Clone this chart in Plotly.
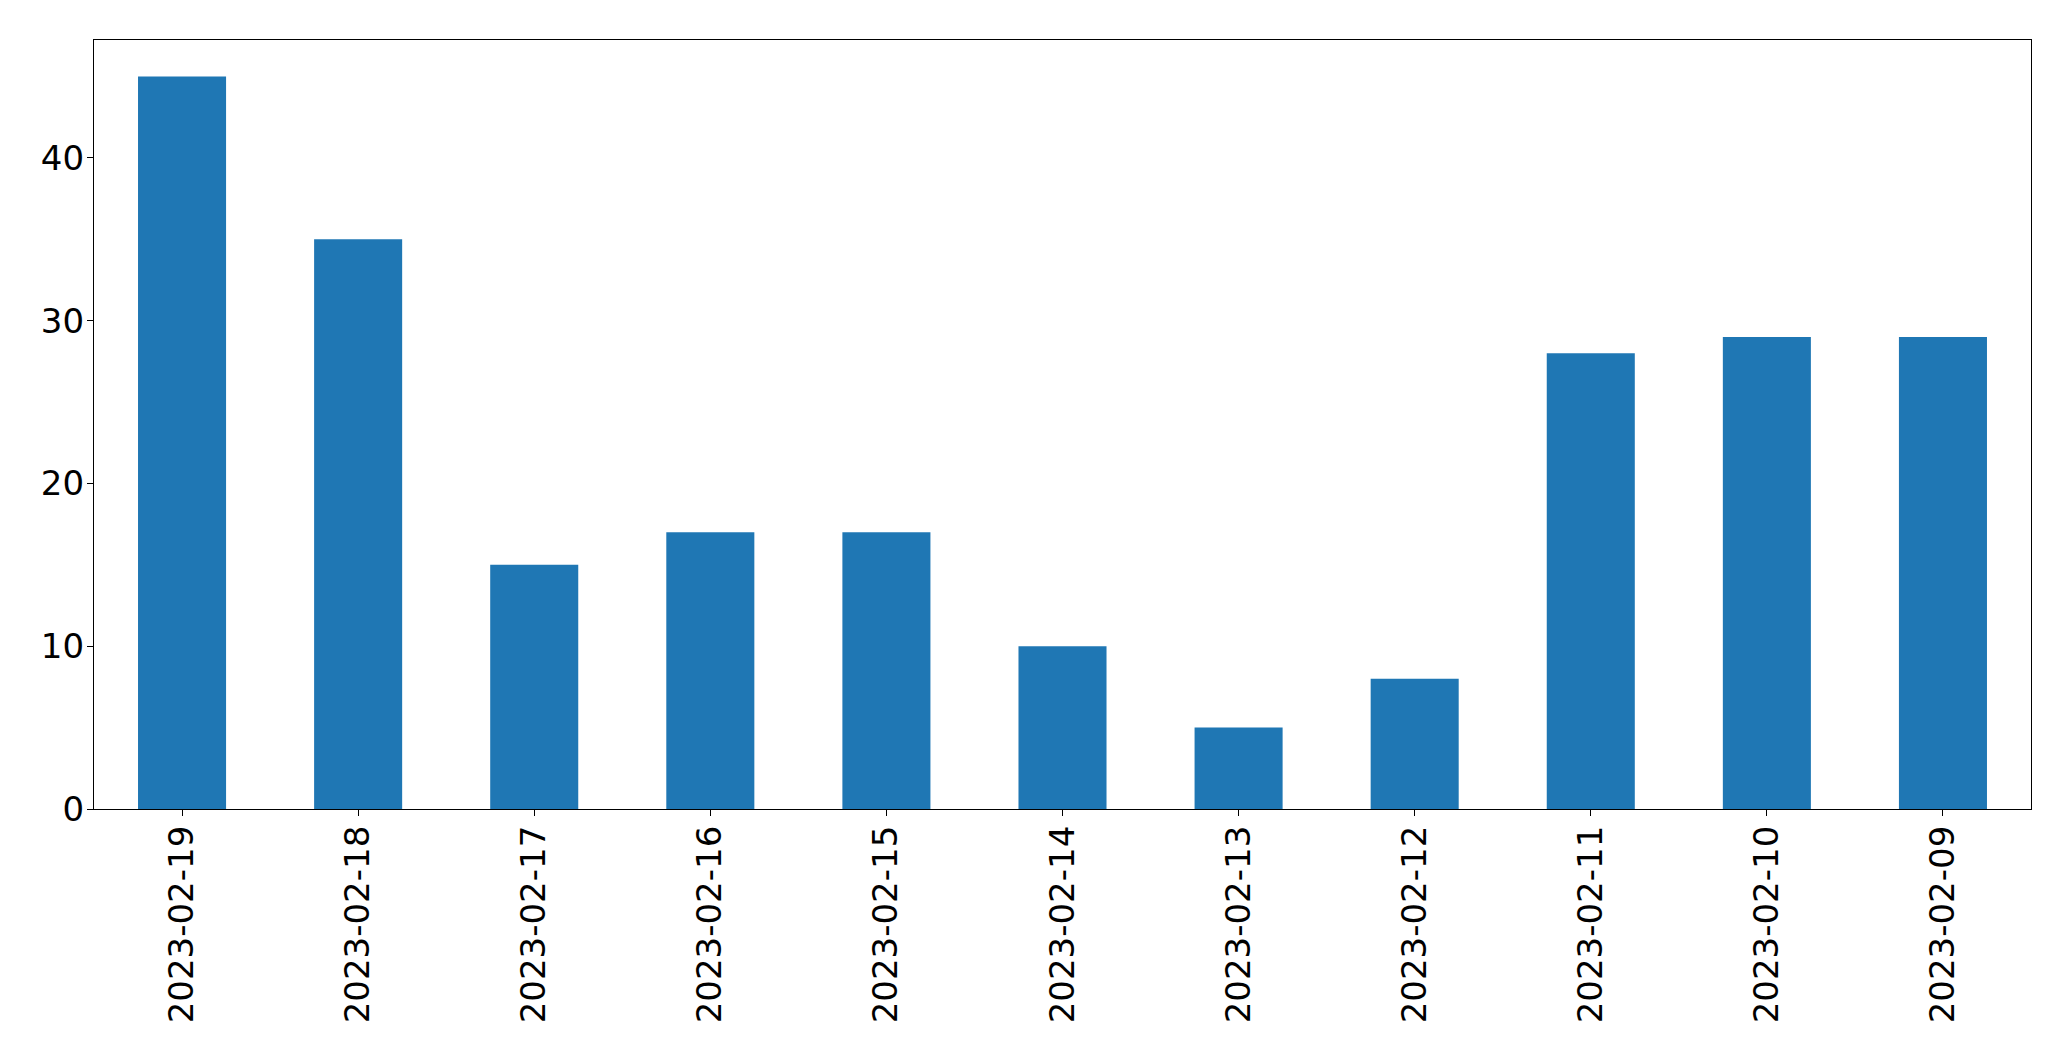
import plotly.graph_objects as go

dates = ["2023-02-19", "2023-02-18", "2023-02-17", "2023-02-16", "2023-02-15",
         "2023-02-14", "2023-02-13", "2023-02-12", "2023-02-11", "2023-02-10", "2023-02-09"]
counts = [45, 35, 15, 17, 17, 10, 5, 8, 28, 29, 29]
y_ticks = [0, 10, 20, 30, 40]

fig = go.Figure(go.Bar(x=dates, y=counts, marker=dict(color="#1f77b4", line=dict(width=0)), width=0.5))

# page body has an 8px margin, so the figure is shifted by 8px; compensate
fig.update_layout(
    width=2055, height=1045,
    margin=dict(l=86, r=32, t=32, b=244),
    plot_bgcolor="white", paper_bgcolor="white",
    font=dict(family="DejaVu Sans", size=34, color="black"),
    showlegend=False,
    bargap=0.5,
)
fig.update_xaxes(
    type="category", range=[-0.5, 10.5], tickangle=-90,
    showline=True, linecolor="black", linewidth=1.3, mirror=True,
    ticks="outside", ticklen=6, tickcolor="black", tickwidth=1.3,
    ticklabelstandoff=-4,
    showgrid=False, zeroline=False,
)
fig.update_yaxes(
    range=[0, 47.25], tickvals=y_ticks,
    showline=True, linecolor="black", linewidth=1.3, mirror=True,
    ticks="outside", ticklen=6, tickcolor="black", tickwidth=1.3,
    ticklabelstandoff=-4,
    showgrid=False, zeroline=False,
)

fig.write_html("out.html")
